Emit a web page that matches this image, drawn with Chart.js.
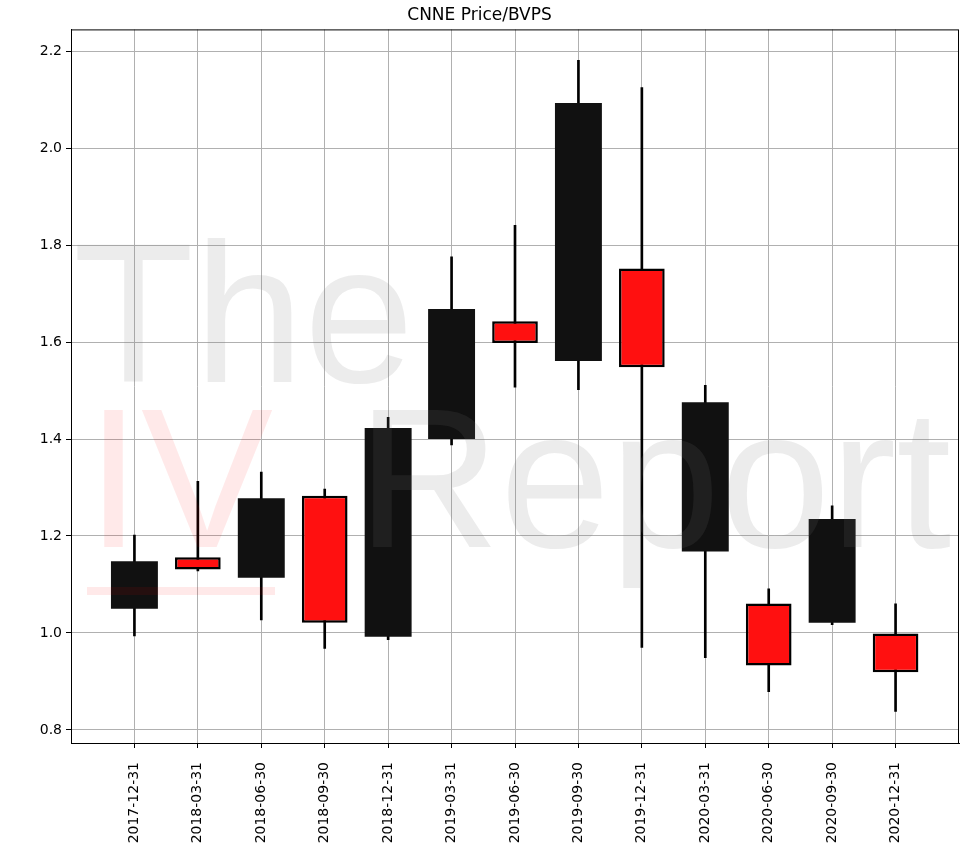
<!DOCTYPE html>
<html>
<head>
<meta charset="utf-8">
<script src="https://cdn.jsdelivr.net/npm/chart.js@4"></script>
<style>
  html, body { margin: 0; padding: 0; background: #fff; }
  #wrap { width: 976px; height: 844px; }
</style>
</head>
<body>
<div id="wrap"><canvas id="chart" width="976" height="844"></canvas></div>
<script>
// quarter-end dates
const dates = ['2017-12-31', '2018-03-31', '2018-06-30', '2018-09-30', '2018-12-31', '2019-03-31', '2019-06-30',
  '2019-09-30', '2019-12-31', '2020-03-31', '2020-06-30', '2020-09-30', '2020-12-31'];

// Price/BVPS per quarter
const openVals  = [1.050, 1.156, 1.114, 1.283, 0.992, 1.400, 1.643, 1.561, 1.752, 1.168, 1.061, 1.021, 0.999];
const closeVals = [1.148, 1.131, 1.278, 1.021, 1.423, 1.668, 1.598, 2.093, 1.548, 1.476, 0.933, 1.235, 0.919];
const highVals  = [1.202, 1.313, 1.332, 1.297, 1.445, 1.776, 1.841, 2.181, 2.125, 1.511, 1.091, 1.262, 1.060];
const lowVals   = [0.994, 1.128, 1.027, 0.968, 0.986, 1.388, 1.507, 1.502, 0.970, 0.949, 0.879, 1.017, 0.838];

const yTicks = [0.8, 1.0, 1.2, 1.4, 1.6, 1.8, 2.0, 2.2];

const font = 'DejaVu Sans';

// split into rising (black) and falling (red) candles
const upBodies = [], downBodies = [], wicks = [];
dates.forEach((d, i) => {
  wicks.push({ x: i, y: [lowVals[i], highVals[i]] });
  if (closeVals[i] >= openVals[i]) upBodies.push({ x: i, y: [openVals[i], closeVals[i]] });
  else downBodies.push({ x: i, y: [openVals[i], closeVals[i]] });
});

// watermark "The IV Report" over the plot
const watermark = {
  id: 'watermark',
  afterDatasetsDraw(chart) {
    const ctx = chart.ctx;
    const a = chart.chartArea;
    ctx.save();
    ctx.beginPath();
    ctx.rect(a.left, a.top, a.right - a.left, a.bottom - a.top);
    ctx.clip();
    ctx.font = '198px "Liberation Sans"';
    ctx.textBaseline = 'alphabetic';
    ctx.fillStyle = 'rgba(120,120,120,0.14)';
    ctx.fillText('The', 73, 382);
    ctx.fillText('Report', 357, 547);
    ctx.fillStyle = 'rgba(255,0,0,0.085)';
    ctx.fillText('IV', 86, 547);
    ctx.fillRect(87, 587, 188, 8);
    ctx.restore();
  }
};

// top and right spines
const frame = {
  id: 'frame',
  afterDraw(chart) {
    const ctx = chart.ctx;
    const a = chart.chartArea;
    ctx.save();
    ctx.strokeStyle = '#000';
    ctx.lineWidth = 1;
    ctx.strokeRect(a.left + 0.5, a.top + 0.5, a.right - a.left - 1, a.bottom - a.top);
    ctx.restore();
  }
};

new Chart(document.getElementById('chart'), {
  type: 'bar',
  data: {
    datasets: [
      {
        label: 'wick',
        data: wicks,
        backgroundColor: '#000',
        barThickness: 2,
        grouped: false,
        order: 3
      },
      {
        label: 'up',
        data: upBodies,
        backgroundColor: '#111111',
        borderWidth: 0,
        barPercentage: 0.74,
        categoryPercentage: 1,
        grouped: false,
        order: 2
      },
      {
        label: 'down',
        data: downBodies,
        backgroundColor: '#ff1010',
        borderColor: '#000',
        borderWidth: 2.5,
        borderSkipped: false,
        barPercentage: 0.72,
        categoryPercentage: 1,
        grouped: false,
        order: 1
      }
    ]
  },
  plugins: [watermark, frame],
  options: {
    responsive: false,
    animation: false,
    layout: { padding: { left: 0, right: 17, top: 0, bottom: 0 } },
    plugins: {
      legend: { display: false },
      tooltip: { enabled: false },
      title: {
        display: true,
        text: 'CNNE Price/BVPS',
        color: '#000',
        font: { family: font, size: 17, weight: 'normal' },
        padding: { top: 5, bottom: 4 }
      }
    },
    scales: {
      x: {
        type: 'linear',
        offset: false,
        min: -1,
        max: 13,
        afterBuildTicks: scale => { scale.ticks = dates.map((d, i) => ({ value: i })); },
        afterFit: scale => { scale.height = 101; },
        ticks: {
          color: '#000',
          font: { family: font, size: 14 },
          minRotation: 90,
          maxRotation: 90,
          padding: 14,
          autoSkip: false,
          callback: v => dates[v]
        },
        grid: { offset: false, color: '#b0b0b0', lineWidth: 1, tickLength: 5, tickColor: '#000' },
        border: { color: '#000', width: 1 }
      },
      y: {
        min: 0.773,
        max: 2.245,
        afterBuildTicks: scale => { scale.ticks = yTicks.map(v => ({ value: v })); },
        afterFit: scale => { scale.width = 71; },
        ticks: {
          color: '#000',
          font: { family: font, size: 14 },
          padding: 4,
          callback: v => v.toFixed(1)
        },
        grid: { color: '#b0b0b0', lineWidth: 1, tickLength: 5, tickColor: '#000' },
        border: { color: '#000', width: 1 }
      }
    }
  }
});
</script>
</body>
</html>
